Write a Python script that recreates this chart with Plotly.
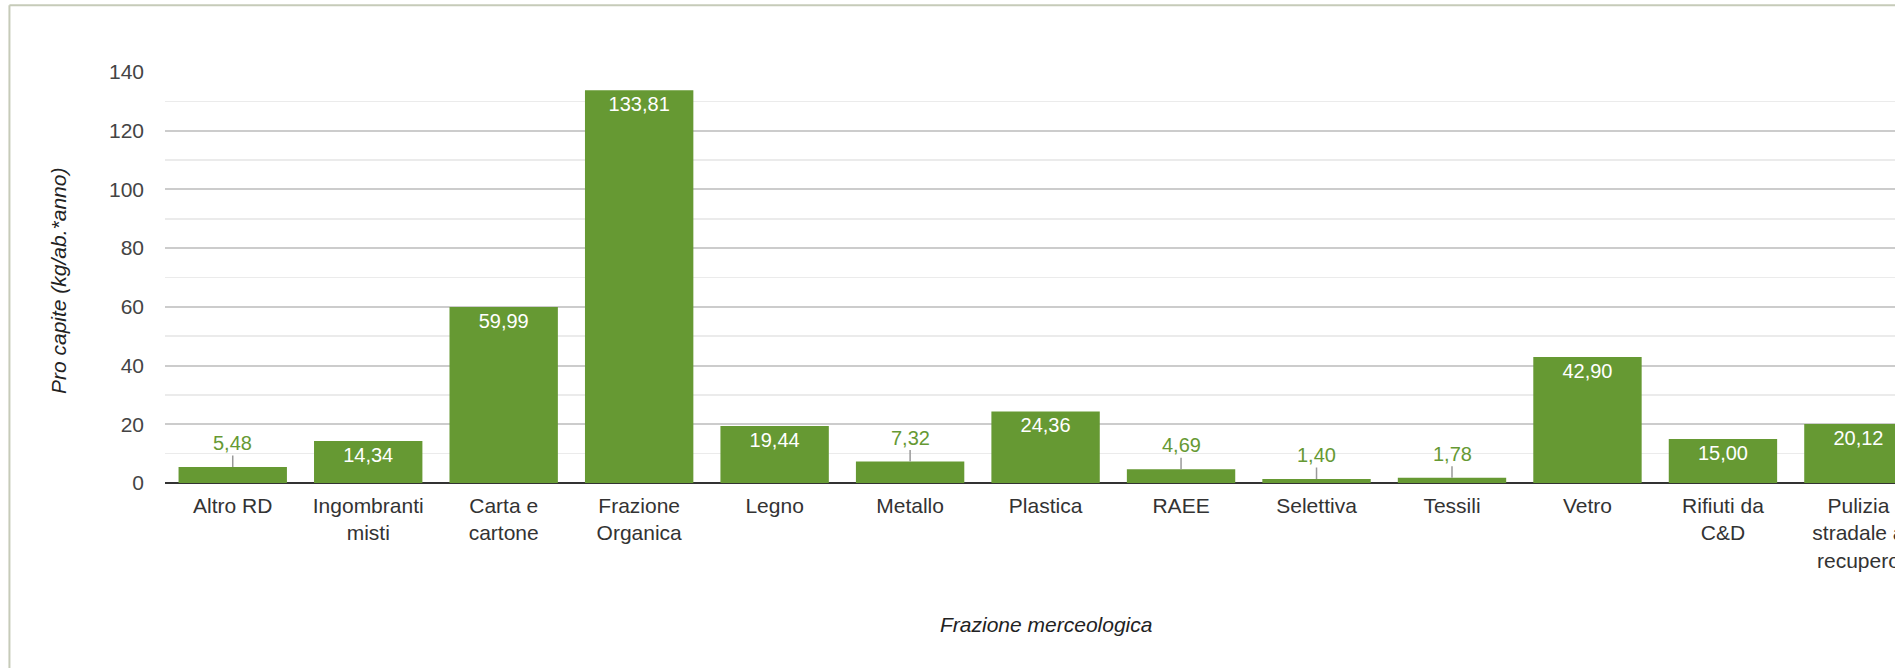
import plotly.graph_objects as go

categories = ["Altro RD", "Ingombranti<br>misti", "Carta e<br>cartone", "Frazione<br>Organica",
              "Legno", "Metallo", "Plastica", "RAEE", "Selettiva", "Tessili", "Vetro",
              "Rifiuti da<br>C&D", "Pulizia<br>stradale a<br>recupero"]
values = [5.48, 14.34, 59.99, 133.81, 19.44, 7.32, 24.36, 4.69, 1.40, 1.78, 42.90, 15.00, 20.12]
inside = [False, True, True, True, True, False, True, False, False, False, True, True, True]
y_ticks = [0, 20, 40, 60, 80, 100, 120, 140]

GREEN = "#669933"
FONT = "Liberation Sans, Arial, sans-serif"
labels = [f"{v:.2f}".replace(".", ",") for v in values]

W, H = 1895, 668
L, T, B_PX = 164.6, 72.3, 483.5
PW, PH = W - L, B_PX - T


def px(xp):
    return (xp - L) / PW


def py(yp):
    return (B_PX - yp) / PH


fig = go.Figure()
fig.add_trace(go.Bar(
    x=categories, y=values,
    marker=dict(color=GREEN, line=dict(width=0)),
    text=[l if ins else "" for l, ins in zip(labels, inside)],
    textposition="inside", insidetextanchor="end", textangle=0,
    constraintext="none",
    insidetextfont=dict(color="white", size=20, family=FONT),
    hoverinfo="x+y",
))

annotations = []
for c, v, l, ins in zip(categories, values, labels, inside):
    if not ins:
        annotations.append(dict(
            x=c, y=v, xref="x", yref="y", text=l, showarrow=True,
            arrowhead=0, arrowwidth=1.5, arrowcolor="#999999", ax=0, ay=-24,
            standoff=0, font=dict(color=GREEN, size=20, family=FONT),
        ))

annotations.append(dict(
    x=6, xref="x", y=py(625), yref="paper", yanchor="middle",
    text="<i>Frazione merceologica</i>",
    showarrow=False, font=dict(size=21, color="#222222", family=FONT),
))
annotations.append(dict(
    x=px(58), xref="paper", y=py(281), yref="paper", text="<i>Pro capite (kg/ab.*anno)</i>",
    showarrow=False, textangle=-90, xanchor="center", yanchor="middle",
    font=dict(size=21, color="#222222", family=FONT),
))

shapes = [
    dict(type="line", xref="paper", yref="paper", x0=px(9), x1=px(1900), y0=py(5.5), y1=py(5.5),
         line=dict(color="#c6cbb9", width=2)),
    dict(type="line", xref="paper", yref="paper", x0=px(9), x1=px(9), y0=py(5.5), y1=py(670),
         line=dict(color="#c6cbb9", width=2)),
]

fig.update_layout(
    width=W, height=H, autosize=False,
    margin=dict(l=L, r=0, t=T, b=H - B_PX, pad=0, autoexpand=False),
    paper_bgcolor="white", plot_bgcolor="white",
    bargap=0.2, showlegend=False,
    font=dict(family=FONT, size=21, color="#444444"),
    annotations=annotations, shapes=shapes,
    xaxis=dict(
        range=[-0.5, 12.27], showgrid=False, showline=False, zeroline=False,
        ticks="", tickfont=dict(size=21, color="#333333", family=FONT),
        ticklabelstandoff=8, fixedrange=True, automargin=False,
    ),
    yaxis=dict(
        range=[0, 140], tickvals=y_ticks, showgrid=True, gridcolor="#cccccc", gridwidth=2,
        minor=dict(dtick=10, showgrid=True, gridcolor="#ebebeb", gridwidth=1.5),
        zeroline=True, zerolinecolor="#333333", zerolinewidth=2.5,
        showline=False, ticks="", tickfont=dict(size=21, color="#444444", family=FONT),
        ticklabelstandoff=20, fixedrange=True, automargin=False,
    ),
)

fig.write_html(
    "out.html",
    config={"displayModeBar": False, "staticPlot": True, "responsive": False},
    post_script=(
        "document.documentElement.style.overflow='hidden';"
        "document.documentElement.style.margin='0';"
        "document.body.style.margin='0';document.body.style.overflow='hidden';"
        "document.querySelectorAll('.svg-container').forEach(function(e){e.style.display='block';});"
    ),
)
